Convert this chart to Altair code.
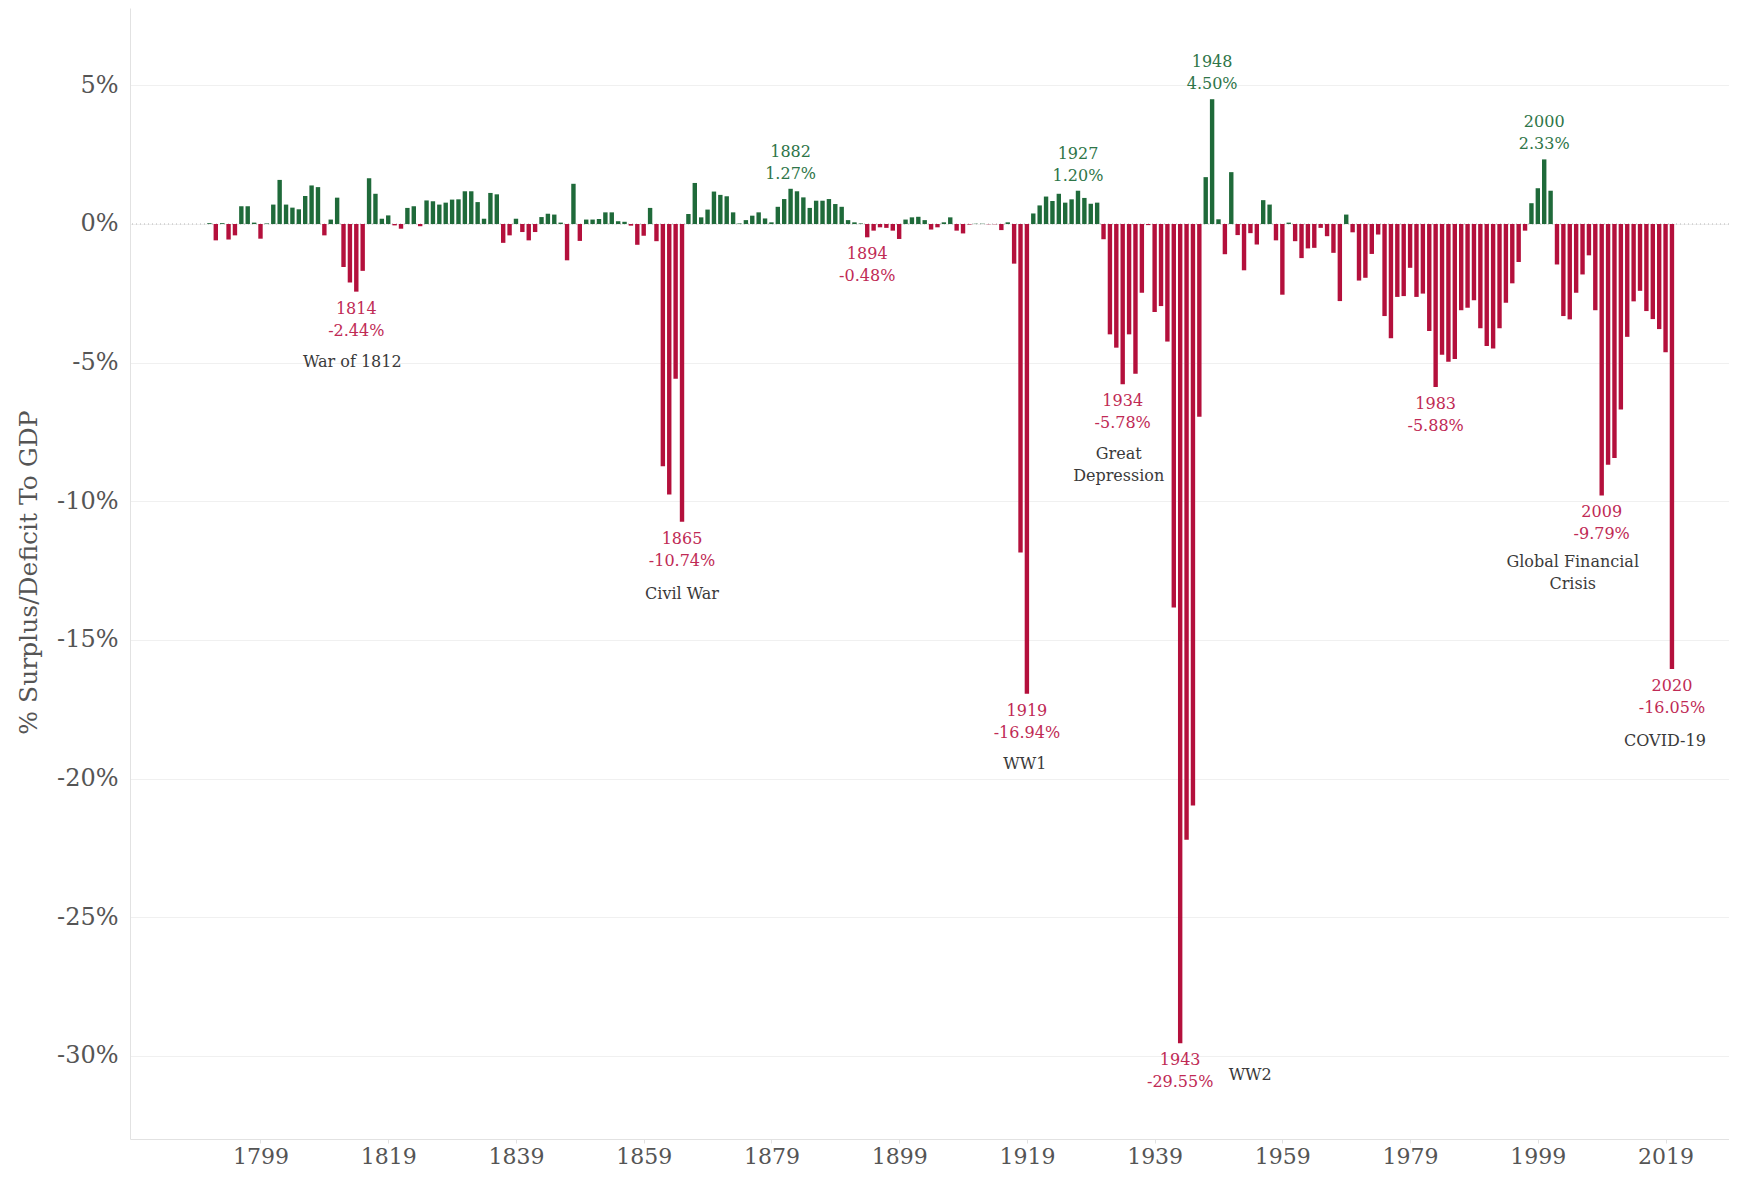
import altair as alt
import pandas as pd

# ---------------- data ----------------
YEARS = list(range(1791, 2021))
VALUES = [
    # 1791-1800
    0.03, -0.59, 0.03, -0.56, -0.41, 0.64, 0.64, 0.05, -0.53, 0.02,
    # 1801-1810
    0.70, 1.59, 0.70, 0.59, 0.53, 1.01, 1.39, 1.33, -0.41, 0.16,
    # 1811-1820
    0.95, -1.55, -2.11, -2.44, -1.69, 1.65, 1.09, 0.19, 0.31, -0.05,
    # 1821-1830
    -0.17, 0.58, 0.64, -0.08, 0.85, 0.82, 0.70, 0.77, 0.88, 0.89,
    # 1831-1840
    1.18, 1.18, 0.79, 0.19, 1.12, 1.07, -0.68, -0.41, 0.19, -0.29,
    # 1841-1850
    -0.59, -0.29, 0.25, 0.37, 0.34, 0.05, -1.31, 1.45, -0.61, 0.16,
    # 1851-1860
    0.16, 0.18, 0.42, 0.42, 0.10, 0.08, -0.06, -0.75, -0.42, 0.58,
    # 1861-1870
    -0.62, -8.74, -9.76, -5.58, -10.74, 0.36, 1.48, 0.24, 0.52, 1.17,
    # 1871-1880
    1.05, 1.00, 0.42, 0.02, 0.14, 0.30, 0.42, 0.20, 0.06, 0.62,
    # 1881-1890
    0.90, 1.27, 1.18, 0.96, 0.58, 0.84, 0.84, 0.90, 0.72, 0.62,
    # 1891-1900
    0.14, 0.06, 0.02, -0.48, -0.24, -0.12, -0.14, -0.24, -0.54, 0.16,
    # 1901-1910
    0.24, 0.26, 0.14, -0.20, -0.12, 0.06, 0.24, -0.24, -0.34, -0.02,
    # 1911-1920
    0.01, 0.01, -0.01, -0.01, -0.22, 0.06, -1.43, -11.85, -16.94, 0.38,
    # 1921-1930
    0.67, 0.99, 0.83, 1.09, 0.77, 0.89, 1.20, 0.94, 0.73, 0.77,
    # 1931-1940
    -0.55, -3.98, -4.46, -5.78, -3.98, -5.40, -2.48, -0.04, -3.17, -2.96,
    # 1941-1950
    -4.24, -13.83, -29.55, -22.21, -20.97, -6.95, 1.69, 4.50, 0.17, -1.09,
    # 1951-1960
    1.87, -0.40, -1.67, -0.33, -0.74, 0.86, 0.70, -0.59, -2.55, 0.05,
    # 1961-1970
    -0.62, -1.23, -0.88, -0.86, -0.14, -0.44, -1.04, -2.78, 0.34, -0.30,
    # 1971-1980
    -2.04, -1.94, -1.08, -0.38, -3.32, -4.12, -2.63, -2.60, -1.58, -2.63,
    # 1981-1990
    -2.51, -3.86, -5.88, -4.72, -4.97, -4.87, -3.11, -3.02, -2.75, -3.76,
    # 1991-2000
    -4.40, -4.49, -3.76, -2.84, -2.14, -1.37, -0.24, 0.75, 1.29, 2.33,
    # 2001-2010
    1.20, -1.46, -3.32, -3.44, -2.48, -1.82, -1.13, -3.11, -9.79, -8.68,
    # 2011-2020
    -8.44, -6.69, -4.07, -2.79, -2.41, -3.14, -3.43, -3.79, -4.63, -16.05,
]
HIGHLIGHT_YEARS = [1814, 1865, 1882, 1894, 1919, 1927, 1934, 1943, 1948,
                   1983, 2000, 2009, 2020]
EVENT_NAMES = ["War of 1812", "Civil War", "WW1", "Great\nDepression", "WW2",
               "Global Financial\nCrisis", "COVID-19"]
EVENT_YEARS = [1814, 1865, 1919, 1934, 1943, 2009, 2020]
X_TICKS = [1799, 1819, 1839, 1859, 1879, 1899, 1919, 1939, 1959, 1979, 1999, 2019]
Y_TICKS = [5, 0, -5, -10, -15, -20, -25, -30]
Y_TITLE = "% Surplus/Deficit To GDP"

# ---------------- style ----------------
FONT = "DejaVu Serif"
GREEN_BAR = "#1f6a3a"
RED_BAR = "#b4103c"
GREEN_TEXT = "#2e7548"
RED_TEXT = "#c02a55"
EVENT_TEXT = "#3a3a3a"
AXIS_TEXT = "#555555"
LINE_COL = "#e2e2e2"
# offsets (px) of each event caption (first line) from its bar end
EVENT_OFFSETS = {
    "War of 1812": (-4, 70),
    "Civil War": (0, 72),
    "WW1": (-2, 70),
    "Great\nDepression": (-4, 70),
    "WW2": (70, 32),
    "Global Financial\nCrisis": (-29, 67),
    "COVID-19": (-7, 72),
}

PLOT_W = 1599
PLOT_H = 1131
X_DOMAIN = [1779.35, 2028.15]
Y_DOMAIN = [-33.0, 7.79]

# ---------------- tables ----------------
df = pd.DataFrame({"year": YEARS, "value": VALUES})
df["sign"] = ["pos" if v >= 0 else "neg" for v in df["value"]]

hl = df[df["year"].isin(HIGHLIGHT_YEARS)].copy()
hl["ylab"] = hl["year"].astype(str)
hl["vlab"] = [f"{v:.2f}%" for v in hl["value"]]
hl_pos = hl[hl["value"] >= 0]
hl_neg = hl[hl["value"] < 0]

val_of = dict(zip(YEARS, VALUES))

x_scale = alt.Scale(domain=X_DOMAIN, nice=False, zero=False)
y_scale = alt.Scale(domain=Y_DOMAIN, nice=False, zero=False)

x_enc = alt.X("year:Q", scale=x_scale,
              axis=alt.Axis(values=X_TICKS, format="d", title=None, grid=False,
                            labelFont=FONT, labelFontSize=22, labelColor=AXIS_TEXT,
                            domainColor=LINE_COL, tickColor=LINE_COL, tickSize=4,
                            labelPadding=3, labelFlush=False, labelOverlap=False))
y_enc = alt.Y("value:Q", scale=y_scale,
              axis=alt.Axis(values=Y_TICKS, labelExpr="datum.value + '%'",
                            title=Y_TITLE, titleFont=FONT, titleFontSize=25,
                            titleFontWeight="normal", titleColor=AXIS_TEXT,
                            titleX=-102, titleY=564, titleAngle=270,
                            titleAlign="center", titleBaseline="middle",
                            grid=True, gridColor="#f0f0f0", ticks=False,
                            domainColor=LINE_COL, labelPadding=12,
                            labelFont=FONT, labelFontSize=24, labelColor=AXIS_TEXT))

zero_line = alt.Chart(pd.DataFrame({"z": [0]})).mark_rule(
    color="#b5b5b5", strokeDash=[1, 3], strokeWidth=1
).encode(y=alt.Y("z:Q", scale=y_scale))

bars = alt.Chart(df).mark_bar(size=4.4).encode(
    x=x_enc,
    y=y_enc,
    y2=alt.datum(0),
    color=alt.Color("sign:N", scale=alt.Scale(domain=["pos", "neg"],
                                              range=[GREEN_BAR, RED_BAR]),
                    legend=None),
)


def label_layer(data, field, dy, color):
    return alt.Chart(data).mark_text(
        font=FONT, fontSize=16, color=color, baseline="middle", align="center", dy=dy
    ).encode(x=alt.X("year:Q", scale=x_scale), y=alt.Y("value:Q", scale=y_scale),
             text=f"{field}:N")


layers = [zero_line, bars,
          label_layer(hl_neg, "ylab", 17, RED_TEXT),
          label_layer(hl_neg, "vlab", 39, RED_TEXT),
          label_layer(hl_pos, "ylab", -37, GREEN_TEXT),
          label_layer(hl_pos, "vlab", -15, GREEN_TEXT)]

for name, yr in zip(EVENT_NAMES, EVENT_YEARS):
    dx, dy = EVENT_OFFSETS[name]
    ev = pd.DataFrame({"year": [yr], "value": [val_of[yr]], "name": [name]})
    layers.append(
        alt.Chart(ev).mark_text(
            font=FONT, fontSize=16, color=EVENT_TEXT, baseline="middle",
            align="center", dx=dx, dy=dy, lineBreak="\n", lineHeight=22
        ).encode(x=alt.X("year:Q", scale=x_scale), y=alt.Y("value:Q", scale=y_scale),
                 text="name:N")
    )

chart = alt.layer(*layers).properties(
    width=PLOT_W, height=PLOT_H,
    autosize=alt.AutoSizeParams(type="none"),
    padding={"left": 122, "top": 0, "right": 0, "bottom": 29},
    background="white",
).configure_view(stroke=None)

chart.save("out.html", embed_options={"renderer": "svg", "actions": False})
